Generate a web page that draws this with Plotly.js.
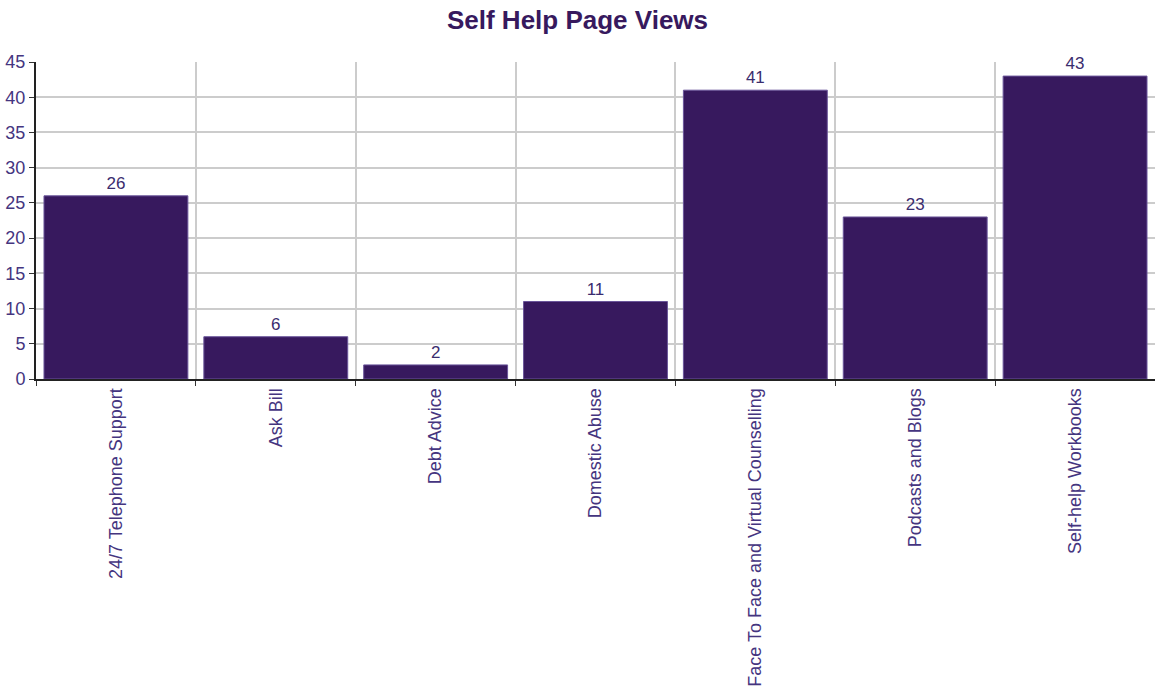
<!DOCTYPE html>
<html>
<head>
<meta charset="utf-8">
<script src="https://cdn.plot.ly/plotly-3.0.1.min.js"></script>
<style>html,body{margin:0;padding:0;background:#fff;}#chart{width:1155px;height:693px;}</style>
</head>
<body>
<div id="chart"></div>
<script>
const categories = ["24/7 Telephone Support", "Ask Bill", "Debt Advice", "Domestic Abuse", "Face To Face and Virtual Counselling", "Podcasts and Blogs", "Self-help Workbooks"];
const pageViews = [26, 6, 2, 11, 41, 23, 43];
const yTicks = [0, 5, 10, 15, 20, 25, 30, 35, 40, 45];
const chartTitle = "Self Help Page Views";

const textColor = "#45357f";
const barColor = "#37195e";

const trace = {
  type: "bar",
  x: categories,
  y: pageViews,
  text: pageViews.map(String),
  textposition: "outside",
  cliponaxis: false,
  textfont: {family: "Liberation Sans, Arial, sans-serif", size: 17, color: "#3a2c6e"},
  marker: {color: barColor, line: {color: "#6a559a", width: 1}},
  hoverinfo: "x+y"
};

const layout = {
  width: 1155,
  height: 693,
  margin: {l: 36, r: 0, t: 62, b: 314},
  paper_bgcolor: "#ffffff",
  plot_bgcolor: "#ffffff",
  bargap: 0.1,
  showlegend: false,
  font: {family: "Liberation Sans, Arial, sans-serif", size: 17, color: textColor},
  title: {
    text: "<b>" + chartTitle + "</b>",
    x: 0.5, xanchor: "center",
    y: 0.972, yanchor: "middle",
    font: {family: "Liberation Sans, Arial, sans-serif", size: 26, color: "#37195e"}
  },
  xaxis: {
    type: "category",
    tickangle: -90,
    tickson: "boundaries",
    ticks: "outside",
    ticklen: 5,
    tickcolor: "#333333",
    showgrid: true,
    gridcolor: "#cccccc",
    gridwidth: 2,
    showline: true,
    linecolor: "#222222",
    linewidth: 2,
    tickfont: {family: "Liberation Sans, Arial, sans-serif", size: 18, color: textColor},
    automargin: false
  },
  yaxis: {
    range: [0, 45],
    tickvals: yTicks,
    ticktext: yTicks.map(String),
    ticks: "outside",
    ticklen: 5,
    tickcolor: "#333333",
    showgrid: true,
    gridcolor: "#cccccc",
    gridwidth: 2,
    showline: true,
    linecolor: "#222222",
    linewidth: 2,
    zeroline: false,
    tickfont: {family: "Liberation Sans, Arial, sans-serif", size: 18, color: textColor},
    automargin: false
  }
};

Plotly.newPlot("chart", [trace], layout, {displayModeBar: false, staticPlot: true});
</script>
</body>
</html>
